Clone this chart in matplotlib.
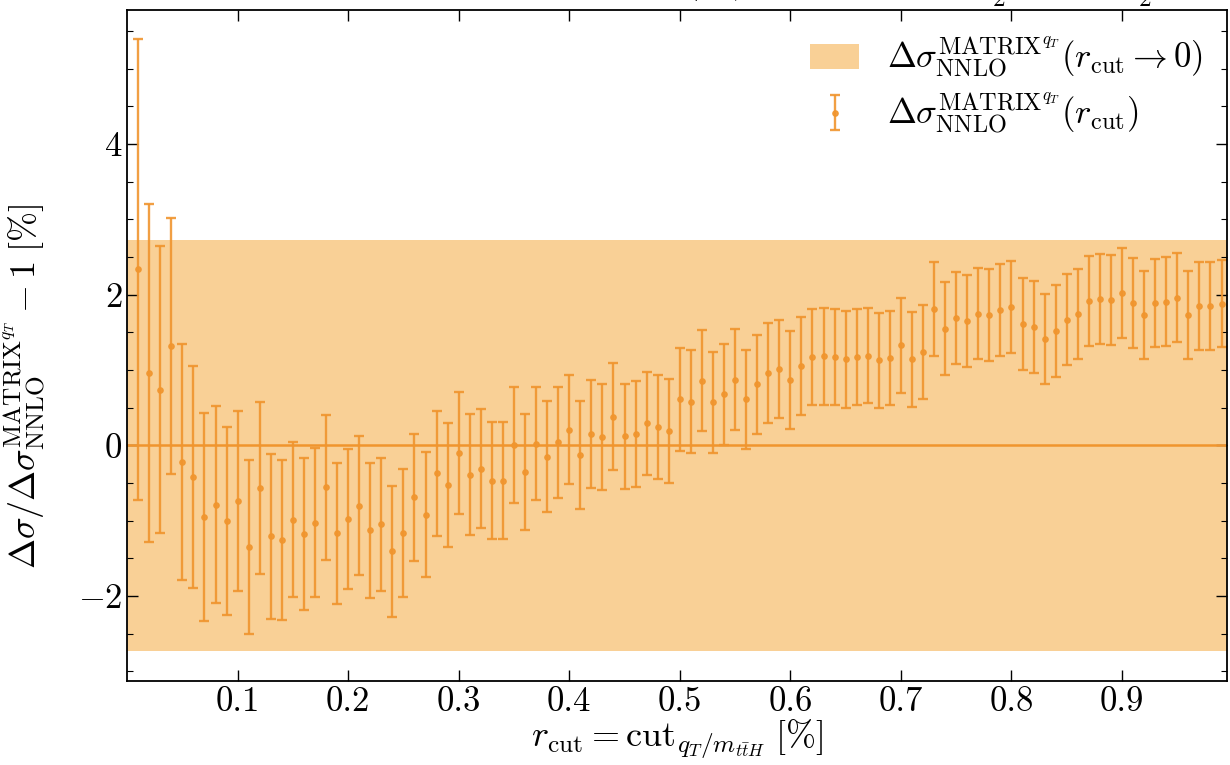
import matplotlib
matplotlib.use("Agg")
import matplotlib.pyplot as plt
from matplotlib.patches import Patch
from matplotlib.ticker import MultipleLocator
import numpy as np

plt.rcParams["font.family"] = "serif"
plt.rcParams["font.serif"] = ["cmr10"]
plt.rcParams["mathtext.fontset"] = "cm"
plt.rcParams["axes.formatter.use_mathtext"] = True

# r_cut values [%]
r_cut = np.round(np.arange(1, 100) * 0.01, 2)

# relative deviation [%] per r_cut
dev = [
    2.34, 0.96, 0.74, 1.32, -0.22, -0.42, -0.95, -0.79, -1.01, -0.74,
    -1.35, -0.57, -1.21, -1.26, -0.99, -1.18, -1.03, -0.56, -1.17, -0.98,
    -0.80, -1.13, -1.05, -1.41, -1.16, -0.69, -0.92, -0.37, -0.53, -0.10,
    -0.39, -0.31, -0.47, -0.47, 0.00, -0.36, 0.02, -0.15, 0.04, 0.21,
    -0.13, 0.15, 0.11, 0.38, 0.12, 0.15, 0.29, 0.24, 0.19, 0.61,
    0.58, 0.86, 0.57, 0.68, 0.87, 0.61, 0.81, 0.96, 1.01, 0.87,
    1.05, 1.17, 1.18, 1.17, 1.14, 1.17, 1.19, 1.13, 1.16, 1.33,
    1.14, 1.24, 1.81, 1.55, 1.69, 1.65, 1.75, 1.73, 1.80, 1.84,
    1.61, 1.57, 1.41, 1.52, 1.67, 1.74, 1.92, 1.94, 1.93, 2.02,
    1.89, 1.73, 1.89, 1.91, 1.96, 1.73, 1.85, 1.85, 1.88,
]

# statistical uncertainty [%] per r_cut
err = [
    3.06, 2.25, 1.91, 1.70, 1.57, 1.47, 1.38, 1.31, 1.25, 1.20,
    1.16, 1.14, 1.09, 1.06, 1.03, 1.01, 0.99, 0.96, 0.94, 0.93,
    0.92, 0.90, 0.88, 0.87, 0.85, 0.84, 0.83, 0.83, 0.82, 0.81,
    0.80, 0.79, 0.78, 0.78, 0.77, 0.77, 0.75, 0.74, 0.74, 0.73,
    0.72, 0.72, 0.71, 0.71, 0.70, 0.70, 0.69, 0.69, 0.69, 0.68,
    0.68, 0.67, 0.67, 0.67, 0.67, 0.66, 0.66, 0.66, 0.65, 0.65,
    0.65, 0.64, 0.64, 0.64, 0.64, 0.64, 0.63, 0.63, 0.63, 0.63,
    0.63, 0.62, 0.62, 0.62, 0.61, 0.61, 0.61, 0.61, 0.61, 0.61,
    0.61, 0.61, 0.60, 0.61, 0.60, 0.60, 0.60, 0.60, 0.60, 0.60,
    0.60, 0.59, 0.59, 0.59, 0.59, 0.59, 0.58, 0.58, 0.58,
]

# extrapolated r_cut -> 0 uncertainty band [%]
band_err = 2.73

orange = "#f0952e"
band_col = "#f9d096"

fig = plt.figure(figsize=(12.3, 7.65), dpi=100)
ax = fig.add_axes([0.1033, 0.1098, 0.8943, 0.877])

ax.axhspan(-band_err, band_err, color=band_col, lw=0)
ax.axhline(0, color=orange, lw=1.8)
eb = ax.errorbar(r_cut, dev, yerr=err, fmt="o", ms=3.8, color=orange,
                 ecolor=orange, elinewidth=1.7, capsize=3.8, capthick=1.7, alpha=0.9)

ax.set_xlim(0, 0.995)
ax.set_ylim(-3.13, 5.78)
ax.yaxis.set_major_locator(MultipleLocator(2))
ax.yaxis.set_minor_locator(MultipleLocator(0.5))
ax.tick_params(which="both", direction="in", top=True, right=True, labelsize=25)
ax.tick_params(which="major", length=8, width=1.0)
ax.tick_params(which="minor", length=4, width=0.8)
ax.set_xticks([0.1, 0.2, 0.3, 0.4, 0.5, 0.6, 0.7, 0.8, 0.9])
ax.set_xticklabels(["0.1", "0.2", "0.3", "0.4", "0.5", "0.6", "0.7", "0.8", "0.9"])
for s in ax.spines.values():
    s.set_linewidth(1.3)

ax.set_xlabel(r"$r_{\mathrm{cut}} = \mathrm{cut}_{q_T/m_{t\bar{t}H}}\;[\%]$", fontsize=26, labelpad=0)
ax.set_ylabel(r"$\Delta\sigma/\Delta\sigma_{\mathrm{NNLO}}^{\mathrm{MATRIX}^{q_T}} - 1\;[\%]$",
              fontsize=26)
ax.yaxis.set_label_coords(-0.072, 0.44)

handles = [Patch(facecolor=band_col, edgecolor="none"), eb]
labels = [r"$\Delta\sigma_{\mathrm{NNLO}}^{\mathrm{MATRIX}^{q_T}}(r_{\mathrm{cut}}\to 0)$",
          r"$\Delta\sigma_{\mathrm{NNLO}}^{\mathrm{MATRIX}^{q_T}}(r_{\mathrm{cut}})$"]
ax.legend(handles, labels, loc="upper right", frameon=False, fontsize=25,
          handlelength=1.4, borderaxespad=0.3, labelspacing=0.3)

fig.text(0.69, 0.988,
         r"$pp\to t\bar{t}H\;(gg)$ channel, $\mu_F=\frac{H_T}{2},\;\mu_R=\frac{H_T}{2}$",
         ha="center", va="bottom", fontsize=26)

fig.savefig("out.png", dpi=100)
